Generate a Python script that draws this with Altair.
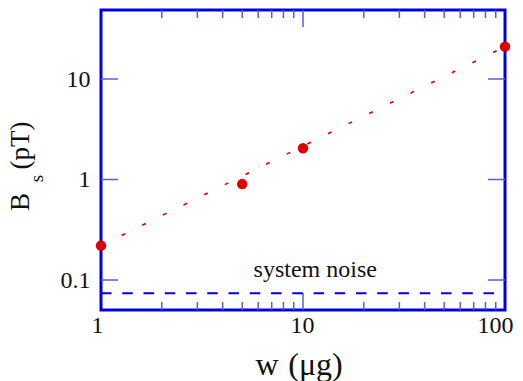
import altair as alt
import pandas as pd

# data
w = [1, 5, 10, 100]
bs = [0.22, 0.9, 2.05, 21]
fit_w = [1, 100]
fit_bs = [0.22, 21]
noise_w = [1, 88.5]
noise_bs = [0.074, 0.074]
y_major = [0.1, 1, 10]
x_major = [10]
x_minor = [2, 3, 4, 5, 6, 7, 8, 9, 20, 30, 40, 50, 60, 70, 80, 90]
x_labels = [1, 10, 100]

W, H = 404, 300
BLUE = "#0000dd"
TICK = "#5a5ae6"
RED = "#dd0000"
FONT = "Liberation Serif"
TXT = "#111111"

xs = alt.Scale(type="log", domain=[1, 100], nice=False)
ys = alt.Scale(type="log", domain=[0.0503, 48.6], nice=False)

pts = pd.DataFrame({"w": w, "bs": bs})
fit = pd.DataFrame({"w": fit_w, "bs": fit_bs})
noise = pd.DataFrame({"w": noise_w, "bs": noise_bs})
ym = pd.DataFrame({"v": y_major})
xM = pd.DataFrame({"v": x_major})
xm = pd.DataFrame({"v": x_minor})

xaxis = alt.Axis(values=x_labels, ticks=False, domain=False, grid=False,
                 labelFont=FONT, labelFontSize=24, labelColor=TXT,
                 labelPadding=3, labelOffset=-1, labelFlush=True, labelFlushOffset=9,
                 title=None, format="~g")
yaxis = alt.Axis(values=y_major, ticks=False, domain=False, grid=False,
                 labelFont=FONT, labelFontSize=24, labelColor=TXT,
                 labelPadding=11, labelFlush=False, title=None, format="~g")

base_pts = alt.Chart(pts).mark_circle(color=RED, size=110, opacity=1).encode(
    x=alt.X("w:Q", scale=xs, axis=xaxis),
    y=alt.Y("bs:Q", scale=ys, axis=yaxis),
)

fit_line = alt.Chart(fit).mark_line(color=RED, strokeWidth=1.6, strokeDash=[4, 19]).encode(
    x=alt.X("w:Q", scale=xs), y=alt.Y("bs:Q", scale=ys))

noise_line = alt.Chart(noise).mark_line(color=BLUE, strokeWidth=2, strokeDash=[10.5, 10.75]).encode(
    x=alt.X("w:Q", scale=xs), y=alt.Y("bs:Q", scale=ys))

noise_text = alt.Chart(pd.DataFrame({"w": [11.5], "bs": [0.126], "t": ["system noise"]})).mark_text(
    font=FONT, fontSize=24, color=TXT, align="center", baseline="middle").encode(
    x=alt.X("w:Q", scale=xs), y=alt.Y("bs:Q", scale=ys), text="t:N")

yl = alt.Chart(ym).mark_rule(color=TICK, strokeWidth=1.5).encode(
    y=alt.Y("v:Q", scale=ys), x=alt.value(0), x2=alt.value(17))
yr = alt.Chart(ym).mark_rule(color=TICK, strokeWidth=1.5).encode(
    y=alt.Y("v:Q", scale=ys), x=alt.value(W - 17), x2=alt.value(W))
xmb = alt.Chart(xm).mark_rule(color=TICK, strokeWidth=1.5).encode(
    x=alt.X("v:Q", scale=xs), y=alt.value(H), y2=alt.value(H - 8))
xmt = alt.Chart(xm).mark_rule(color=TICK, strokeWidth=1.5).encode(
    x=alt.X("v:Q", scale=xs), y=alt.value(0), y2=alt.value(8))
xMb = alt.Chart(xM).mark_rule(color=TICK, strokeWidth=1.5).encode(
    x=alt.X("v:Q", scale=xs), y=alt.value(H), y2=alt.value(H - 17))
xMt = alt.Chart(xM).mark_rule(color=TICK, strokeWidth=1.5).encode(
    x=alt.X("v:Q", scale=xs), y=alt.value(0), y2=alt.value(17))

tdf = pd.DataFrame({"a": [0]})
title_B = alt.Chart(tdf).mark_text(font=FONT, fontSize=27, color=TXT, angle=270,
                                   align="center", baseline="alphabetic").encode(
    x=alt.value(-72), y=alt.value(192), text=alt.value("B"))
title_s = alt.Chart(tdf).mark_text(font=FONT, fontSize=19, color=TXT, angle=270,
                                   align="center", baseline="alphabetic").encode(
    x=alt.value(-58), y=alt.value(168.5), text=alt.value("s"))
title_p = alt.Chart(tdf).mark_text(font=FONT, fontSize=27, color=TXT, angle=270,
                                   align="center", baseline="alphabetic").encode(
    x=alt.value(-72), y=alt.value(135.5), text=alt.value("(pT)"))
title_w = alt.Chart(tdf).mark_text(font=FONT, fontSize=32, color=TXT,
                                   align="center", baseline="alphabetic").encode(
    x=alt.value(166), y=alt.value(365), text=alt.value("w"))
title_u = alt.Chart(tdf).mark_text(font=FONT, fontSize=32, color=TXT,
                                   align="center", baseline="alphabetic").encode(
    x=alt.value(214.5), y=alt.value(365), text=alt.value("(μg)"))

chart = alt.layer(
    yl, yr, xmb, xmt, xMb, xMt, noise_line, fit_line, noise_text, base_pts,
    title_B, title_s, title_p, title_w, title_u
).properties(
    width=W, height=H,
    autosize=alt.AutoSizeParams(type="none"),
    padding={"left": 93, "top": 2, "right": 10, "bottom": 71},
).configure(background="white").configure_view(stroke=BLUE, strokeWidth=3)

chart.save("out.html", embed_options={"renderer": "svg", "actions": False})
